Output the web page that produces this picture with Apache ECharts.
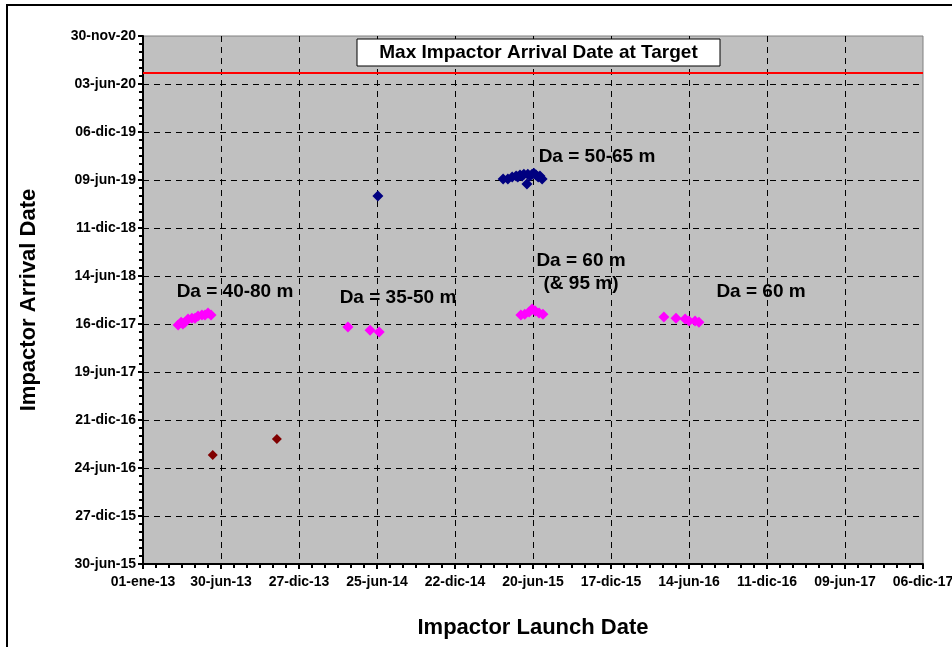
<!DOCTYPE html>
<html>
<head>
<meta charset="utf-8">
<script src="https://cdn.jsdelivr.net/npm/echarts@6/dist/echarts.min.js"></script>
<style>
html,body{margin:0;padding:0;background:#fff;}
#chart{width:952px;height:647px;}
</style>
</head>
<body>
<div id="chart"></div>
<script>
// ---- tick labels ----
const xTickLabels = ['01-ene-13','30-jun-13','27-dic-13','25-jun-14','22-dic-14','20-jun-15','17-dic-15','14-jun-16','11-dic-16','09-jun-17','06-dic-17'];
const yTickLabels = ['30-jun-15','27-dic-15','24-jun-16','21-dic-16','19-jun-17','16-dic-17','14-jun-18','11-dic-18','09-jun-19','06-dic-19','03-jun-20','30-nov-20'];
const xStart = '2013-01-01';
const yStart = '2015-06-30';
const tickStepDays = 180;

// ---- data (launch date, arrival date) ----
const da4080Launch  = ['2013-03-23','2013-03-30','2013-04-03','2013-04-08','2013-04-15','2013-04-24','2013-05-01','2013-05-08','2013-05-17','2013-05-24','2013-05-31','2013-06-07'];
const da4080Arrival = ['2017-12-12','2017-12-23','2017-12-16','2017-12-23','2018-01-04','2018-01-07','2018-01-07','2018-01-15','2018-01-19','2018-01-19','2018-01-26','2018-01-19'];

const da3550Launch  = ['2014-04-19','2014-06-09','2014-06-30'];
const da3550Arrival = ['2017-12-05','2017-11-23','2017-11-16'];

const da6095Launch  = ['2015-05-23','2015-06-01','2015-06-11','2015-06-18','2015-06-25','2015-07-04','2015-07-13'];
const da6095Arrival = ['2018-01-19','2018-01-22','2018-01-30','2018-02-10','2018-02-03','2018-01-26','2018-01-22'];

const da60Launch  = ['2016-04-17','2016-05-15','2016-06-05','2016-06-14','2016-06-28','2016-07-07'];
const da60Arrival = ['2018-01-11','2018-01-07','2018-01-04','2017-12-27','2017-12-27','2017-12-23'];

const da5065Launch  = ['2014-06-27','2015-04-12','2015-04-23','2015-05-03','2015-05-12','2015-05-21','2015-05-26','2015-05-30','2015-06-08','2015-06-18','2015-06-27','2015-07-02','2015-07-06','2015-07-11','2015-06-06','2015-05-16','2015-06-13','2015-06-22'];
const da5065Arrival = ['2019-04-10','2019-06-13','2019-06-13','2019-06-20','2019-06-24','2019-06-28','2019-06-24','2019-07-01','2019-07-01','2019-07-01','2019-06-28','2019-06-20','2019-06-24','2019-06-13','2019-05-25','2019-06-20','2019-06-24','2019-07-04'];

const otherLaunch  = ['2013-06-11','2013-11-06'];
const otherArrival = ['2016-08-12','2016-10-11'];

const maxArrivalDate = '2020-07-14';

// ---- helpers ----
const DAY = 86400000;
const xBase = Date.parse(xStart);
const yBase = Date.parse(yStart);
const dx = s => Math.round((Date.parse(s) - xBase) / DAY);
const dy = s => Math.round((Date.parse(s) - yBase) / DAY);
const pairs = (L, A) => L.map((l, i) => [dx(l), dy(A[i])]);

const magentaData = [].concat(
  pairs(da4080Launch, da4080Arrival),
  pairs(da3550Launch, da3550Arrival),
  pairs(da6095Launch, da6095Arrival),
  pairs(da60Launch, da60Arrival)
);
const navyData = pairs(da5065Launch, da5065Arrival);
const redData = pairs(otherLaunch, otherArrival);

const FONT = '"Liberation Sans", Arial, sans-serif';
const xMax = (xTickLabels.length - 1) * tickStepDays;
const yMax = (yTickLabels.length - 1) * tickStepDays;

const axisCommon = {
  type: 'value',
  min: 0,
  interval: tickStepDays,
  axisLine: { show: true, onZero: false, lineStyle: { color: '#000', width: 2 } },
  axisTick: { show: true, inside: false, length: 5, lineStyle: { color: '#000', width: 2 } },
  minorTick: { show: true, splitNumber: 6, length: 4, lineStyle: { color: '#000', width: 2 } },
  splitLine: { show: true, showMinLine: false, showMaxLine: false, lineStyle: { color: '#000', width: 1, type: [6, 5] } },
  nameTextStyle: { fontFamily: FONT, fontWeight: 'bold', fontSize: 22, color: '#000' }
};

const annot = (x, y, text) => ({ type: 'text', x: x, y: y, z: 101,
  style: { text: text, font: 'bold 19px ' + FONT, fill: '#000', align: 'center', verticalAlign: 'middle' } });

const chart = echarts.init(document.getElementById('chart'), null, { renderer: 'canvas' });
chart.setOption({
  animation: false,
  backgroundColor: '#fff',
  grid: { left: 143, top: 36, right: 29, bottom: 83, outerBoundsMode: 'none', containLabel: false,
    show: true, backgroundColor: '#C0C0C0', borderColor: '#808080', borderWidth: 1 },
  xAxis: Object.assign({}, axisCommon, {
    max: xMax,
    name: 'Impactor Launch Date',
    nameLocation: 'middle',
    nameGap: 53,
    axisLabel: { margin: 11, fontFamily: FONT, fontWeight: 'bold', fontSize: 14, color: '#000',
      formatter: v => xTickLabels[Math.round(v / tickStepDays)] }
  }),
  yAxis: Object.assign({}, axisCommon, {
    max: yMax,
    name: 'Impactor Arrival Date',
    nameLocation: 'middle',
    nameGap: 103,
    axisLabel: { margin: 7, fontFamily: FONT, fontWeight: 'bold', fontSize: 14, color: '#000',
      formatter: v => yTickLabels[Math.round(v / tickStepDays)] }
  }),
  series: [
    {
      type: 'scatter', name: 'Da 40-80 / 35-50 / 60 m', symbol: 'diamond', symbolSize: 11,
      itemStyle: { color: '#FF00FF', opacity: 1 }, data: magentaData, z: 3,
      markLine: {
        silent: true, symbol: 'none', label: { show: false },
        lineStyle: { color: '#FF0000', width: 2, type: 'solid' },
        data: [{ yAxis: dy(maxArrivalDate) }]
      }
    },
    { type: 'scatter', name: 'Da 50-65 m', symbol: 'diamond', symbolSize: 11, itemStyle: { color: '#000080', opacity: 1 }, data: navyData, z: 3 },
    { type: 'scatter', name: 'other', symbol: 'diamond', symbolSize: 10, itemStyle: { color: '#800000', opacity: 1 }, data: redData, z: 3 }
  ],
  graphic: [
    { type: 'rect', shape: { x: 7, y: 5, width: 1000, height: 700 }, style: { fill: 'none', stroke: '#000', lineWidth: 2 }, z: 100 },
    { type: 'rect', shape: { x: 357, y: 39, width: 363, height: 27 }, style: { fill: '#fff', stroke: '#000', lineWidth: 1 }, z: 100 },
    { type: 'text', x: 538.5, y: 53, z: 101, style: { text: 'Max Impactor Arrival Date at Target', font: 'bold 19px ' + FONT, fill: '#000', align: 'center', verticalAlign: 'middle' } },
    annot(235, 292, 'Da = 40-80 m'),
    annot(398, 298, 'Da = 35-50 m'),
    annot(597, 157, 'Da = 50-65 m'),
    annot(581, 261, 'Da = 60 m'),
    annot(581, 284, '(& 95 m)'),
    annot(761, 292, 'Da = 60 m')
  ]
});
</script>
</body>
</html>
